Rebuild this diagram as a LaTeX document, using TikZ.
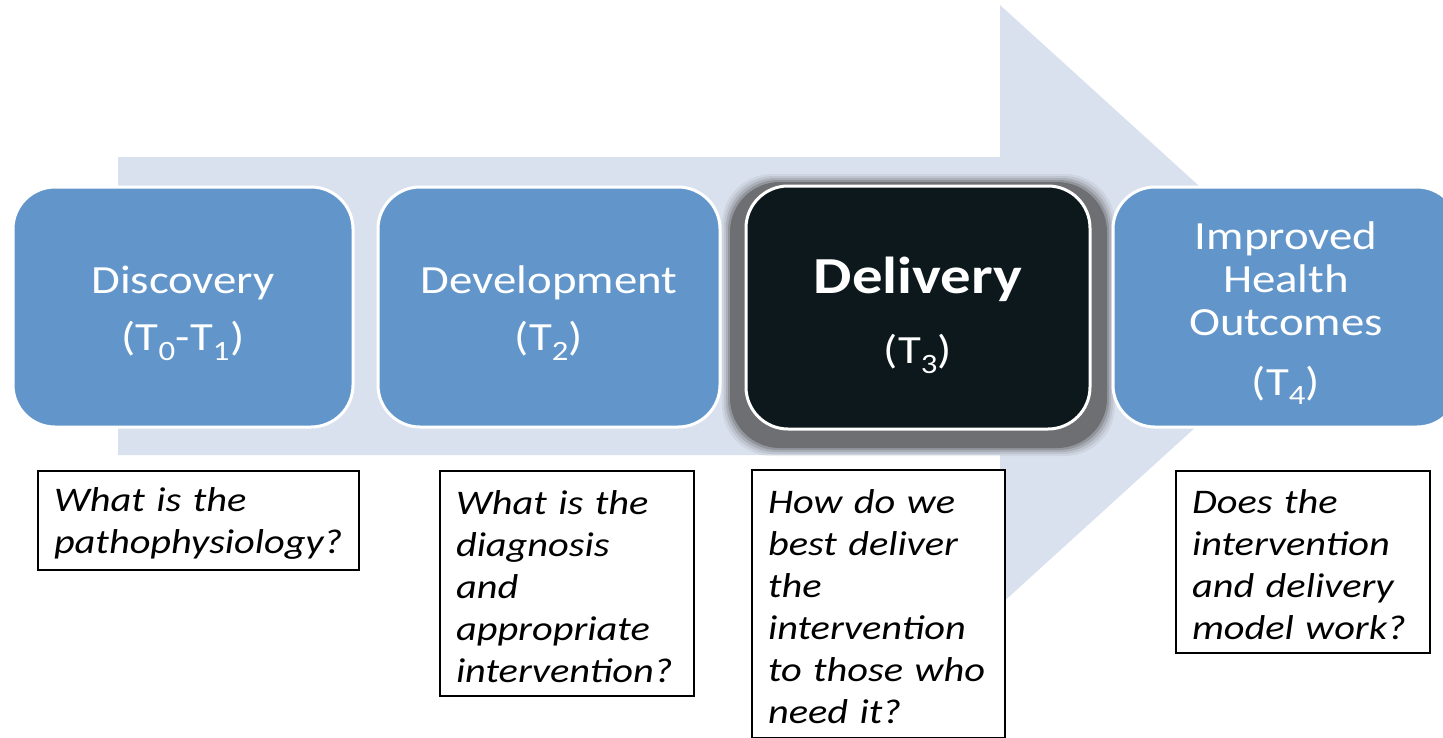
\documentclass[tikz,border=0pt]{standalone}
\usepackage{fontspec}
\setmainfont{Carlito}[FakeStretch=1.17]
\definecolor{arrowc}{RGB}{218,225,238}
\definecolor{stageblue}{RGB}{98,150,202}
\definecolor{darkbox}{RGB}{12,24,28}
\definecolor{glow}{RGB}{110,111,115}
\newcommand{\topstrut}[1]{\rule{0pt}{#1}}
\begin{document}
\begin{tikzpicture}[x=1pt,y=-1pt,
  stage/.style={rounded corners=42pt, draw=white, line width=3pt, fill=stageblue,
    text=white, align=center, inner sep=0pt, minimum width=340pt, minimum height=240pt,
    font=\fontsize{40}{43}\selectfont},
  question/.style={draw=black, line width=1.5pt, fill=white, align=left,
    inner xsep=16pt, inner ysep=0pt, font=\fontsize{34.5}{42}\selectfont\itshape}]
\clip (0,0) rectangle (1443,737);
% big background arrow
\fill[arrowc] (118,157) -- (1000,157) -- (1000,5) -- (1330,305) -- (1000,605)
  -- (1000,455) -- (118,455) -- cycle;
% glow behind the Delivery box
\foreach \e/\o in {8/0.1,6/0.15,4/0.25,2/0.4,0/1}{
  \fill[glow, opacity=\o, rounded corners=50pt]
    (730-\e,182-\e) rectangle (1107+\e,448+\e);
}
% stages
\node[stage] (disc) at (183,307)
  {\topstrut{40pt}Discovery\\[14pt](T\textsubscript{0}-T\textsubscript{1})};
\node[stage, minimum width=342pt] (devel) at (549,307)
  {\topstrut{40pt}Development\\[14pt](T\textsubscript{2})};
\node[stage, minimum width=344pt, minimum height=243pt, fill=darkbox] (deliv) at (918,307.5)
  {{\fontsize{52}{56}\selectfont\bfseries\topstrut{52pt}Delivery}\\[27pt](T\textsubscript{3})};
\node[stage, minimum width=346pt] (outc) at (1286,307)
  {\topstrut{40pt}Improved\\Health\\Outcomes\\[17pt](T\textsubscript{4})};
% questions
\node[question, minimum width=321pt, minimum height=99pt, text width=289pt] (q1) at (198.5,520.5)
  {\topstrut{30pt}What is the\\pathophysiology?};
\node[question, minimum width=254pt, minimum height=225pt, text width=222pt] (q2) at (567,583.5)
  {\topstrut{30pt}What is the\\diagnosis\\and\\appropriate\\intervention?};
\node[question, minimum width=253pt, minimum height=268pt, text width=221pt] (q3) at (878.5,604)
  {\topstrut{30pt}How do we\\best deliver\\the\\intervention\\to those who\\need it?};
\node[question, minimum width=254pt, minimum height=182pt, text width=222pt] (q4) at (1303,562)
  {\topstrut{30pt}Does the\\intervention\\and delivery\\model work?};
\end{tikzpicture}
\end{document}
